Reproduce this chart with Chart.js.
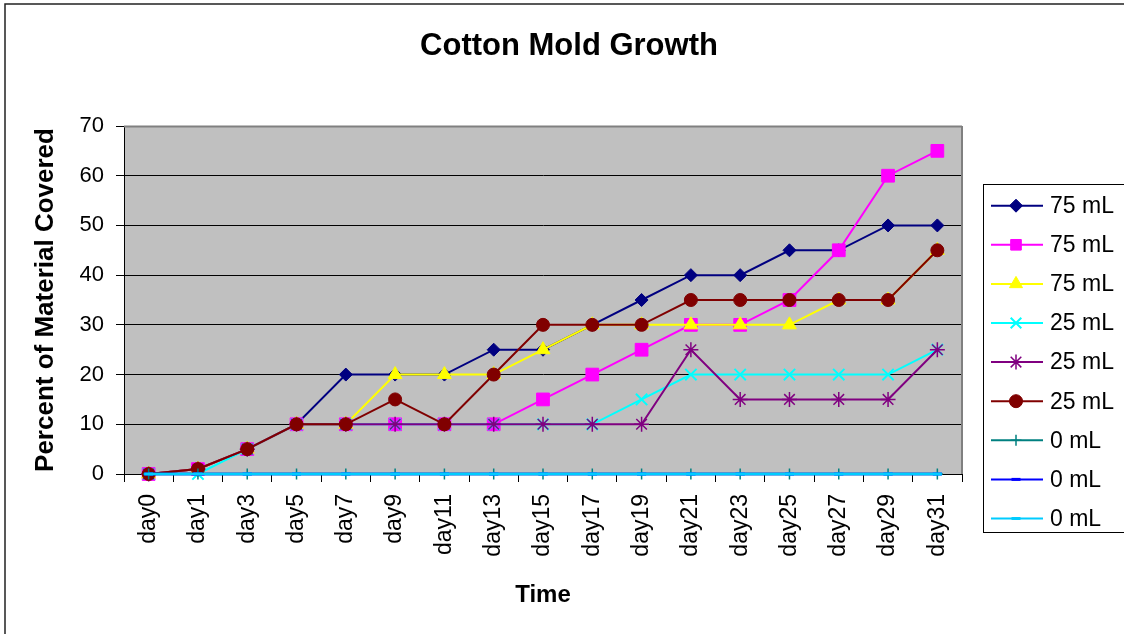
<!DOCTYPE html>
<html>
<head>
<meta charset="utf-8">
<script src="https://cdn.jsdelivr.net/npm/chart.js@4/dist/chart.umd.min.js"></script>
<style>
html,body{margin:0;padding:0;background:#fff;overflow:hidden}
#wrap{position:relative;width:1124px;height:634px}
canvas{display:block}
</style>
</head>
<body>
<div id="wrap"><canvas id="c" width="1124" height="634"></canvas></div>
<script>
// ---- data ----
const categories = ['day0','day1','day3','day5','day7','day9','day11','day13','day15','day17','day19','day21','day23','day25','day27','day29','day31'];
const seriesNames = ['75 mL','75 mL','75 mL','25 mL','25 mL','25 mL','0 mL','0 mL','0 mL'];
const s75a = [0,1,5,10,20,20,20,25,25,30,35,40,40,45,45,50,50];
const s75b = [0,1,5,10,10,10,10,10,15,20,25,30,30,35,45,60,65];
const s75c = [0,1,5,10,10,20,20,20,25,30,30,30,30,30,35,35,45];
const s25a = [0,0,5,10,10,10,10,10,10,10,15,20,20,20,20,20,25];
const s25b = [0,1,5,10,10,10,10,10,10,10,10,25,15,15,15,15,25];
const s25c = [0,1,5,10,10,15,10,20,30,30,30,35,35,35,35,35,45];
const s0a  = [0,0,0,0,0,0,0,0,0,0,0,0,0,0,0,0,0];
const s0b  = [0,0,0,0,0,0,0,0,0,0,0,0,0,0,0,0,0];
const s0c  = [0,0,0,0,0,0,0,0,0,0,0,0,0,0,0,0,0];
const yTicks = [0,10,20,30,40,50,60,70];
const chartTitle = 'Cotton Mold Growth';
const xTitle = 'Time';
const yTitle = 'Percent of Material Covered';

// ---- styles ----
const FONT = "'Liberation Sans', Arial, Helvetica, sans-serif";
Chart.defaults.font.family = FONT;
Chart.defaults.color = '#000';

const seriesData = [s75a, s75b, s75c, s25a, s25b, s25c, s0a, s0b, s0c];
const styles = [
  {color:'#000080', pointStyle:'rectRot',  radius:6.5, pbw:1},
  {color:'#FF00FF', pointStyle:'rect',     radius:9,   pbw:1},
  {color:'#FFFF00', pointStyle:'triangle', radius:8,   pbw:1},
  {color:'#00FFFF', pointStyle:'crossRot', radius:8,   pbw:2},
  {color:'#800080', pointStyle:'star',     radius:7.5, pbw:1.5},
  {color:'#800000', pointStyle:'circle',   radius:6.5, pbw:1},
  {color:'#008080', pointStyle:'cross',    radius:5.5, pbw:1.5},
  {color:'#0000FF', pointStyle:'line',     radius:4.5, pbw:3},
  {color:'#00CCFF', pointStyle:'line',     radius:4.5, pbw:3}
];

const datasets = seriesData.map((d, i) => ({
  label: seriesNames[i],
  data: d,
  borderColor: styles[i].color,
  backgroundColor: styles[i].color,
  borderWidth: i >= 6 ? 2.5 : 2,
  pointStyle: styles[i].pointStyle,
  pointRadius: styles[i].radius,
  pointBackgroundColor: styles[i].color,
  pointBorderColor: styles[i].color,
  pointBorderWidth: styles[i].pbw,
  tension: 0,
  clip: false,
  order: seriesData.length - i
}));

const decorPlugin = {
  id: 'decor',
  beforeDraw(chart) {
    const {ctx, chartArea: a} = chart;
    ctx.save();
    ctx.fillStyle = '#C0C0C0';
    ctx.fillRect(a.left, a.top, a.right - a.left, a.bottom - a.top);
    ctx.restore();
  },
  beforeDatasetsDraw(chart) {
    const {ctx, chartArea: a} = chart;
    ctx.save();
    ctx.strokeStyle = '#808080';
    ctx.lineWidth = 2;
    ctx.beginPath();
    ctx.moveTo(a.left, a.top + 0.5);
    ctx.lineTo(a.right, a.top + 0.5);
    ctx.moveTo(a.right, a.top);
    ctx.lineTo(a.right, a.bottom);
    ctx.stroke();
    ctx.restore();
  },
  afterDraw(chart) {
    const {ctx} = chart;
    ctx.save();
    // outer chart border
    ctx.strokeStyle = '#222';
    ctx.lineWidth = 1.5;
    ctx.strokeRect(5, 4, 1200, 700);
    // title
    ctx.fillStyle = '#000';
    ctx.font = 'bold 31px ' + FONT;
    ctx.textAlign = 'center';
    ctx.textBaseline = 'middle';
    ctx.fillText(chartTitle, 569, 46);
    // legend box
    const lx = 983.5, ly = 184.5, lh = 348;
    ctx.strokeStyle = '#000';
    ctx.lineWidth = 1;
    ctx.strokeRect(lx, ly, 200, lh);
    const rowH = 39.1;
    chart.data.datasets.forEach((ds, i) => {
      const y = 205.7 + i * rowH;
      ctx.strokeStyle = ds.borderColor;
      ctx.lineWidth = 2;
      ctx.beginPath();
      ctx.moveTo(991, y);
      ctx.lineTo(1043, y);
      ctx.stroke();
      ctx.fillStyle = ds.pointBackgroundColor;
      ctx.strokeStyle = ds.pointBorderColor;
      ctx.lineWidth = ds.pointBorderWidth;
      const r = Math.min(ds.pointRadius, 7.5);
      if (Chart.helpers && Chart.helpers.drawPoint) {
        Chart.helpers.drawPoint(ctx, {pointStyle: ds.pointStyle, radius: r, rotation: 0, borderWidth: ds.pointBorderWidth}, 1016, y);
      }
      ctx.fillStyle = '#000';
      ctx.font = '23px ' + FONT;
      ctx.textAlign = 'left';
      ctx.textBaseline = 'middle';
      ctx.fillText(ds.label, 1050, y + 1);
    });
    ctx.restore();
  }
};

new Chart(document.getElementById('c'), {
  type: 'line',
  data: {labels: categories, datasets},
  plugins: [decorPlugin],
  options: {
    responsive: false,
    animation: false,
    events: [],
    layout: {padding: {left: 14, right: 162, top: 126, bottom: 10}},
    plugins: {
      legend: {display: false},
      tooltip: {enabled: false},
      title: {display: false}
    },
    scales: {
      x: {
        type: 'category',
        offset: true,
        grid: {offset: true, drawOnChartArea: false, tickLength: 8, color: '#000', tickColor: '#000'},
        border: {color: '#000', width: 1},
        ticks: {minRotation: 90, maxRotation: 90, autoSkip: false, padding: 12, color: '#000', font: {size: 23}},
        title: {display: true, text: xTitle, color: '#000', font: {size: 24, weight: 'bold'}, padding: {top: 0, bottom: 14}},
        afterFit(s) { s.height = 150; }
      },
      y: {
        min: 0, max: 70,
        afterBuildTicks(s) { s.ticks = yTicks.map(v => ({value: v})); },
        ticks: {padding: 12, color: '#000', font: {size: 22}},
        grid: {color: c => (c.tick && c.tick.value === 70) ? '#808080' : '#000', tickColor: '#000', tickLength: 8, lineWidth: 1},
        border: {color: '#000', width: 1},
        title: {display: true, text: yTitle, color: '#000', font: {size: 26, weight: 'bold'}, padding: {top: 16, bottom: 0}},
        afterFit(s) { s.width = 110; }
      }
    }
  }
});
</script>
</body>
</html>
